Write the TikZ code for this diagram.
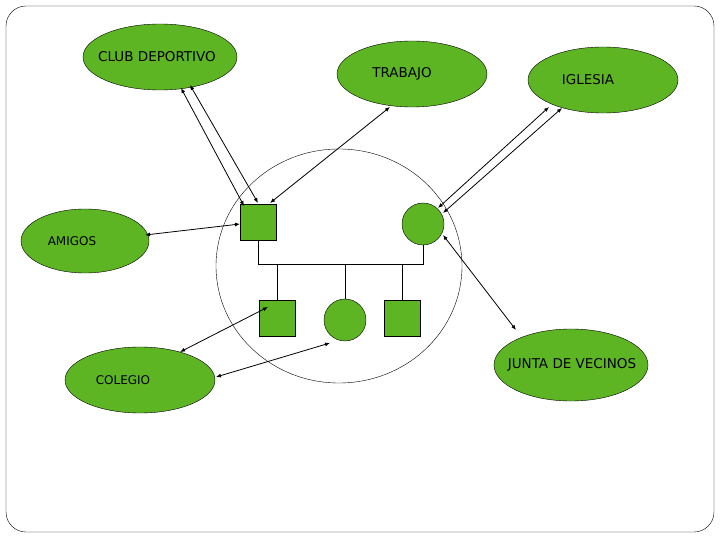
\documentclass[tikz,border=0pt]{standalone}
\usepackage{fontspec}
\setmainfont{DejaVu Sans}
\usetikzlibrary{shapes.geometric,arrows.meta}
\definecolor{gr}{HTML}{5DB524}
\begin{document}
\begin{tikzpicture}[x=1pt,y=-1pt,
 ell/.style={draw=black,fill=gr,ellipse,inner sep=0pt},
 lbl/.style={font=\fontsize{13.5}{15}\selectfont,inner sep=0pt},
 sml/.style={font=\fontsize{12}{14}\selectfont,inner sep=0pt},
 fam/.style={draw=black,fill=gr},
 arr/.style={{Latex[length=5pt,width=4pt]}-{Latex[length=5pt,width=4pt]},line width=0.8pt}]
\useasboundingbox (0,0) rectangle (720,540);
\draw[rounded corners=20pt] (6,6) rectangle (714,532);
\draw (339,266) ellipse [x radius=123, y radius=117];
\node[ell,minimum width=154,minimum height=66] (club) at (160,57) {};
\node[lbl] at (157,57) {CLUB DEPORTIVO};
\node[ell,minimum width=150,minimum height=66] (trab) at (412,74) {};
\node[lbl] at (402,74) {TRABAJO};
\node[ell,minimum width=150,minimum height=66] (igl) at (603,80) {};
\node[lbl] at (588,80) {IGLESIA};
\node[ell,minimum width=128,minimum height=64] (amig) at (85,241) {};
\node[sml] at (72,241) {AMIGOS};
\node[ell,minimum width=150,minimum height=66] (cole) at (140,380) {};
\node[sml] at (123,380) {COLEGIO};
\node[ell,minimum width=154,minimum height=72] (junta) at (571,365) {};
\node[lbl] at (572,365) {JUNTA DE VECINOS};
% family
\node[fam,minimum size=36,inner sep=0] (dad) at (258,222) {};
\node[fam,circle,minimum size=42,inner sep=0] (mom) at (423,224) {};
\node[fam,minimum size=36,inner sep=0] (c1) at (277,318) {};
\node[fam,circle,minimum size=42,inner sep=0] (c2) at (345,320) {};
\node[fam,minimum size=36,inner sep=0] (c3) at (402,318) {};
\coordinate (l) at (258,264); \coordinate (r) at (423,264);
\draw (dad.south) -- (l) -- (r) -- (mom.south);
\draw (277,264) -- (c1.north);
\draw (345,264) -- (c2.north);
\draw (402,264) -- (c3.north);
% arrows
\coordinate (a1) at (181,88); \coordinate (a2) at (244,206);
\coordinate (b1) at (190,85); \coordinate (b2) at (258,203);
\draw[arr] (a1) -- (a2); \draw[arr] (b1) -- (b2);
\coordinate (t1) at (390,107); \coordinate (t2) at (270,203);
\draw[arr] (t1) -- (t2);
\coordinate (i1) at (549,107); \coordinate (i2) at (438,208);
\coordinate (j1) at (562,108); \coordinate (j2) at (443,213);
\draw[arr] (i1) -- (i2); \draw[arr] (j1) -- (j2);
\coordinate (m1) at (145,235); \coordinate (m2) at (240,224);
\draw[arr] (m1) -- (m2);
\coordinate (v1) at (443,235); \coordinate (v2) at (516,330);
\draw[arr] (v1) -- (v2);
\coordinate (k1) at (180,352); \coordinate (k2) at (268,307);
\draw[arr] (k1) -- (k2);
\coordinate (h1) at (216,377); \coordinate (h2) at (330,343);
\draw[arr] (h1) -- (h2);
\end{tikzpicture}
\end{document}
